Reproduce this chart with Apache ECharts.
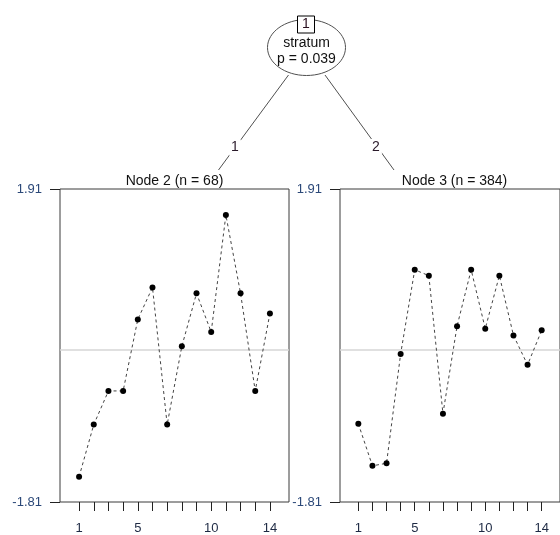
<!DOCTYPE html>
<html>
<head>
<meta charset="utf-8">
<style>
  html, body { margin: 0; padding: 0; background: #fff; }
  #chart { width: 560px; height: 535px; }
</style>
<script src="https://cdn.jsdelivr.net/npm/echarts@6/dist/echarts.min.js"></script>
</head>
<body>
<div id="chart"></div>
<script>
// Time points shared by both terminal nodes
const timePoints = [1, 2, 3, 4, 5, 6, 7, 8, 9, 10, 11, 12, 13, 14];
const xTickLabels = [1, 5, 10, 14];

// Mean profile in each terminal node
const node2Values = [-1.51, -0.89, -0.49, -0.49, 0.36, 0.74, -0.89, 0.04, 0.67, 0.21, 1.60, 0.67, -0.49, 0.43];
const node3Values = [-0.88, -1.38, -1.35, -0.05, 0.95, 0.88, -0.76, 0.28, 0.95, 0.25, 0.88, 0.17, -0.18, 0.23];

// Shared y range and its tick labels
const yMin = -1.81;
const yMax = 1.91;
const yTickLabels = [yMin, yMax];
const referenceLevel = 0;

// Tree structure text
const rootId = '1';
const rootVariable = 'stratum';
const rootPValue = 'p = 0.039';
const edgeLabels = ['1', '2'];
const nodeTitles = ['Node 2 (n = 68)', 'Node 3 (n = 384)'];

const FONT = 'Liberation Sans, Arial, Helvetica, sans-serif';
const chart = echarts.init(document.getElementById('chart'), null, { renderer: 'canvas' });

const grids = [
  { left: 60, top: 189, width: 229, height: 316 },
  { left: 340, top: 189, width: 229, height: 316 }
].map(g => Object.assign(g, { show: true, borderColor: '#3a3a3a', borderWidth: 1, backgroundColor: 'transparent' }));

function xAxisFor(i) {
  return {
    gridIndex: i, type: 'value', min: -0.3, max: 15.3, position: 'bottom',
    axisLine: { show: false, onZero: false },
    splitLine: { show: false },
    axisTick: { show: true, inside: false, length: 9, customValues: timePoints, lineStyle: { color: '#222', width: 1 } },
    axisLabel: { show: true, customValues: xTickLabels, margin: 20, fontSize: 13, color: '#1e2a44', fontFamily: FONT }
  };
}
function yAxisFor(i) {
  return {
    gridIndex: i, type: 'value', min: yMin, max: yMax, position: 'left',
    axisLine: { show: false, onZero: false },
    splitLine: { show: false },
    axisTick: { show: true, inside: false, length: 10, customValues: yTickLabels, lineStyle: { color: '#222', width: 1 } },
    axisLabel: { show: true, customValues: yTickLabels, margin: 18, fontSize: 13, color: '#2b4878', fontFamily: FONT,
      formatter: v => v.toFixed(2) }
  };
}
function profileSeries(i, values) {
  return {
    type: 'line', xAxisIndex: i, yAxisIndex: i,
    data: timePoints.map((t, k) => [t, values[k]]),
    symbol: 'circle', symbolSize: 6,
    itemStyle: { color: '#000' },
    lineStyle: { color: '#444', width: 1, type: [3, 3] },
    silent: true, animation: false, z: 3,
    markLine: {
      silent: true, symbol: 'none', animation: false,
      label: { show: false },
      lineStyle: { color: '#d6d6d6', width: 1.5, type: 'solid' },
      data: [{ yAxis: referenceLevel }],
      z: 1
    }
  };
}

// Root node and edges of the tree
const root = { cx: 306.5, cy: 47.5, rx: 39, ry: 28 };
const edges = [
  { x1: 288.5, y1: 75, x2: 218.5, y2: 170, lx: 235, ly: 147.5 },
  { x1: 325, y1: 75, x2: 394, y2: 170, lx: 376, ly: 147 }
];

const graphics = [];
edges.forEach((e, i) => {
  graphics.push({ type: 'line', shape: { x1: e.x1, y1: e.y1, x2: e.x2, y2: e.y2 },
    style: { stroke: '#505050', lineWidth: 1 }, z: 10 });
  graphics.push({ type: 'text', x: e.lx, y: e.ly, z: 12,
    style: { text: edgeLabels[i], fill: '#2a1a2a', font: '14px ' + FONT, align: 'center', verticalAlign: 'middle',
      backgroundColor: '#fff', padding: [1, 2] } });
});
graphics.push({ type: 'ellipse', shape: root, style: { fill: '#fff', stroke: '#505050', lineWidth: 1 }, z: 11 });
graphics.push({ type: 'text', x: root.cx, y: 43.5, z: 12,
  style: { text: rootVariable, fill: '#111', font: '14px ' + FONT, align: 'center', verticalAlign: 'middle' } });
graphics.push({ type: 'text', x: root.cx, y: 59.5, z: 12,
  style: { text: rootPValue, fill: '#111', font: '14px ' + FONT, align: 'center', verticalAlign: 'middle' } });
graphics.push({ type: 'rect', shape: { x: 297.5, y: 16, width: 17, height: 17 },
  style: { fill: '#fff', stroke: '#000', lineWidth: 1 }, z: 13 });
graphics.push({ type: 'text', x: 306, y: 24.5, z: 14,
  style: { text: rootId, fill: '#2a1020', font: '14px ' + FONT, align: 'center', verticalAlign: 'middle' } });

// Panel titles above each terminal node
[174.5, 454.5].forEach((cx, i) => {
  graphics.push({ type: 'text', x: cx, y: 181, z: 12,
    style: { text: nodeTitles[i], fill: '#111', font: '14px ' + FONT, align: 'center', verticalAlign: 'middle' } });
});

chart.setOption({
  animation: false,
  backgroundColor: '#fff',
  grid: grids,
  xAxis: [xAxisFor(0), xAxisFor(1)],
  yAxis: [yAxisFor(0), yAxisFor(1)],
  series: [profileSeries(0, node2Values), profileSeries(1, node3Values)],
  graphic: graphics
});
</script>
</body>
</html>
